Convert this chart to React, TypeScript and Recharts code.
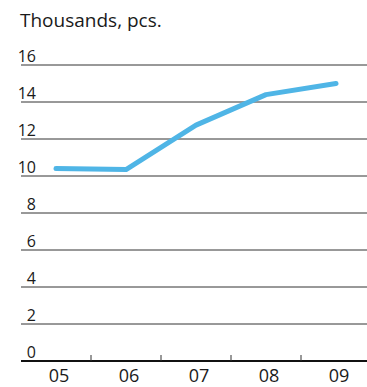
import React from "react";
import { LineChart, Line, XAxis, YAxis, CartesianGrid } from "recharts";

const years = ["05", "06", "07", "08", "09"];
const values = [10.4, 10.35, 12.75, 14.4, 15.0];
const yTicks = [0, 2, 4, 6, 8, 10, 12, 14, 16];
const title = "Thousands, pcs.";

const data = years.map((y, i) => ({ year: y, value: values[i] }));

const CHART_W = 372;
const CHART_H = 387;
const Y_AXIS_W = 21;
const X_AXIS_H = 26;
const MARGIN = { top: 65, right: 1, left: 0, bottom: 0 };
const BAND = (CHART_W - Y_AXIS_W - MARGIN.right) / years.length;
const FONT = "'Open Sans', sans-serif";

const YTick = (props: any) => {
  const { y, payload } = props;
  return (
    <text
      x={Y_AXIS_W + 15}
      y={y - 3}
      textAnchor="end"
      fontFamily={FONT}
      fontSize={16}
      fill="#1a1a1a"
    >
      {payload.value}
    </text>
  );
};

const XTick = (props: any) => {
  const { x, y, payload, index } = props;
  return (
    <g>
      {index > 0 && (
        <line x1={x - BAND / 2} x2={x - BAND / 2} y1={y} y2={y - 6} stroke="#333" strokeWidth={1} />
      )}
      <text
        x={x + 3}
        y={y + 21}
        textAnchor="middle"
        fontFamily={FONT}
        fontSize={18}
        fill="#1a1a1a"
      >
        {payload.value}
      </text>
    </g>
  );
};

export default function App() {
  return (
    <div
      style={{
        position: "absolute",
        left: 0,
        top: 0,
        width: 367,
        height: 387,
        overflow: "hidden",
        background: "#fff",
      }}
    >
      <div
        style={{
          position: "absolute",
          left: 20,
          top: 8,
          fontFamily: FONT,
          fontSize: 19,
          lineHeight: "24px",
          color: "#1a1a1a",
          whiteSpace: "nowrap",
        }}
      >
        {title}
      </div>
      <LineChart width={CHART_W} height={CHART_H} data={data} margin={MARGIN}>
        <CartesianGrid vertical={false} stroke="#333" strokeWidth={1} />
        <XAxis
          dataKey="year"
          height={X_AXIS_H}
          padding={{ left: BAND / 2, right: BAND / 2 }}
          axisLine={{ stroke: "#111", strokeWidth: 2 }}
          tickLine={false}
          tickSize={0}
          tickMargin={0}
          tick={<XTick />}
          interval={0}
        />
        <YAxis
          domain={[0, 16]}
          ticks={yTicks}
          width={Y_AXIS_W}
          axisLine={false}
          tickLine={false}
          tick={<YTick />}
          interval={0}
        />
        <Line
          type="linear"
          dataKey="value"
          stroke="#4fb5e6"
          strokeWidth={5}
          strokeLinecap="round"
          strokeLinejoin="round"
          dot={false}
          activeDot={false}
          isAnimationActive={false}
        />
      </LineChart>
    </div>
  );
}
